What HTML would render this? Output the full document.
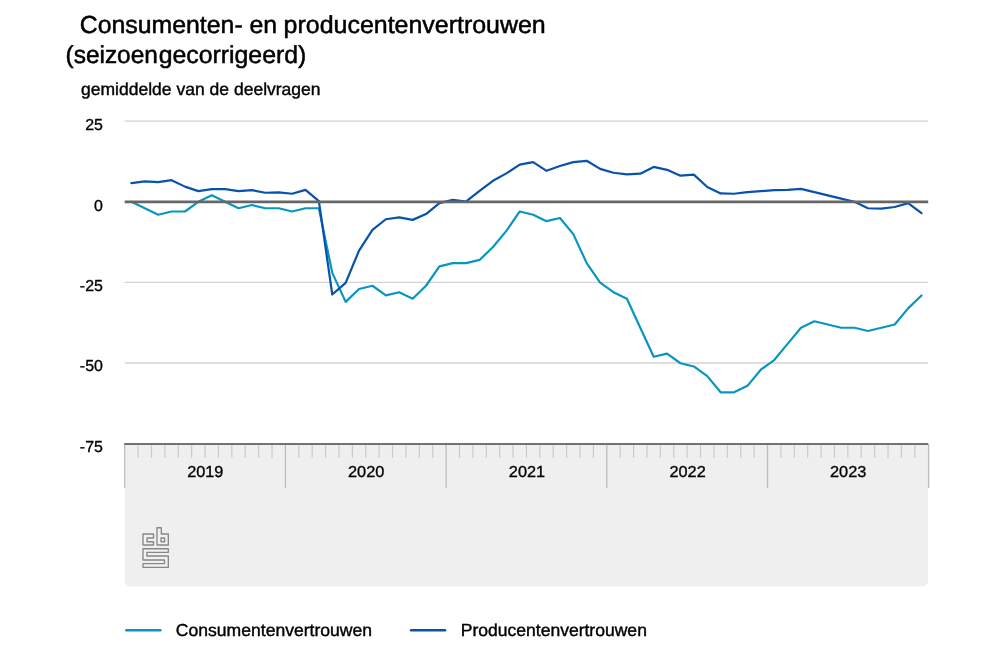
<!DOCTYPE html>
<html lang="nl"><head><meta charset="utf-8"><title>Consumenten- en producentenvertrouwen</title>
<style>
html,body{margin:0;padding:0;background:#fff;}
body{width:1000px;height:650px;overflow:hidden;}
svg{display:block;font-family:"Liberation Sans",Arial,Helvetica,sans-serif;}
text{fill:#000;stroke:#000;text-rendering:geometricPrecision;}
</style></head><body>
<svg width="1000" height="650" viewBox="0 0 1000 650">
<rect width="1000" height="650" fill="#fff"/>
<g font-size="24.65px" stroke-width="0.5">
<text y="32.8" id="t1"><tspan x="79.79" textLength="197.39" lengthAdjust="spacingAndGlyphs">Consumenten- en</tspan> <tspan x="283.61" textLength="262.12" lengthAdjust="spacingAndGlyphs">producentenvertrouwen</tspan></text>
<text y="62.85" id="t2"><tspan x="65.56" textLength="92.32" lengthAdjust="spacingAndGlyphs">(seizoen</tspan><tspan x="158.74" textLength="147.56" lengthAdjust="spacingAndGlyphs">gecorrigeerd)</tspan></text>
</g>
<g font-size="17.4px" stroke-width="0.4">
<text x="81.0" y="94.6" textLength="239.6" lengthAdjust="spacingAndGlyphs" id="sub">gemiddelde van de deelvragen</text>
</g>
<path d="M124.9,444 H928.0 V581 a5.5,5.5 0 0 1 -5.5,5.5 H130.4 a5.5,5.5 0 0 1 -5.5,-5.5 Z" fill="#efefef"/>
<g stroke="#d4d4d4" stroke-width="1.4">
<line x1="124.7" x2="928.2" y1="121.1" y2="121.1"/>
<line x1="124.7" x2="928.2" y1="282.4" y2="282.4"/>
<line x1="124.7" x2="928.2" y1="363" y2="363"/>
</g>
<g stroke="#c9c9c9" stroke-width="1.15">
<line x1="138.09" x2="138.09" y1="444" y2="457.7"/>
<line x1="151.48" x2="151.48" y1="444" y2="457.7"/>
<line x1="164.88" x2="164.88" y1="444" y2="457.7"/>
<line x1="178.27" x2="178.27" y1="444" y2="457.7"/>
<line x1="191.66" x2="191.66" y1="444" y2="457.7"/>
<line x1="205.05" x2="205.05" y1="444" y2="457.7"/>
<line x1="218.44" x2="218.44" y1="444" y2="457.7"/>
<line x1="231.83" x2="231.83" y1="444" y2="457.7"/>
<line x1="245.23" x2="245.23" y1="444" y2="457.7"/>
<line x1="258.62" x2="258.62" y1="444" y2="457.7"/>
<line x1="272.01" x2="272.01" y1="444" y2="457.7"/>
<line x1="298.79" x2="298.79" y1="444" y2="457.7"/>
<line x1="312.18" x2="312.18" y1="444" y2="457.7"/>
<line x1="325.57" x2="325.57" y1="444" y2="457.7"/>
<line x1="338.97" x2="338.97" y1="444" y2="457.7"/>
<line x1="352.36" x2="352.36" y1="444" y2="457.7"/>
<line x1="365.75" x2="365.75" y1="444" y2="457.7"/>
<line x1="379.14" x2="379.14" y1="444" y2="457.7"/>
<line x1="392.53" x2="392.53" y1="444" y2="457.7"/>
<line x1="405.93" x2="405.93" y1="444" y2="457.7"/>
<line x1="419.32" x2="419.32" y1="444" y2="457.7"/>
<line x1="432.71" x2="432.71" y1="444" y2="457.7"/>
<line x1="459.49" x2="459.49" y1="444" y2="457.7"/>
<line x1="472.88" x2="472.88" y1="444" y2="457.7"/>
<line x1="486.28" x2="486.28" y1="444" y2="457.7"/>
<line x1="499.67" x2="499.67" y1="444" y2="457.7"/>
<line x1="513.06" x2="513.06" y1="444" y2="457.7"/>
<line x1="526.45" x2="526.45" y1="444" y2="457.7"/>
<line x1="539.84" x2="539.84" y1="444" y2="457.7"/>
<line x1="553.23" x2="553.23" y1="444" y2="457.7"/>
<line x1="566.62" x2="566.62" y1="444" y2="457.7"/>
<line x1="580.02" x2="580.02" y1="444" y2="457.7"/>
<line x1="593.41" x2="593.41" y1="444" y2="457.7"/>
<line x1="620.19" x2="620.19" y1="444" y2="457.7"/>
<line x1="633.58" x2="633.58" y1="444" y2="457.7"/>
<line x1="646.98" x2="646.98" y1="444" y2="457.7"/>
<line x1="660.37" x2="660.37" y1="444" y2="457.7"/>
<line x1="673.76" x2="673.76" y1="444" y2="457.7"/>
<line x1="687.15" x2="687.15" y1="444" y2="457.7"/>
<line x1="700.54" x2="700.54" y1="444" y2="457.7"/>
<line x1="713.93" x2="713.93" y1="444" y2="457.7"/>
<line x1="727.33" x2="727.33" y1="444" y2="457.7"/>
<line x1="740.72" x2="740.72" y1="444" y2="457.7"/>
<line x1="754.11" x2="754.11" y1="444" y2="457.7"/>
<line x1="780.89" x2="780.89" y1="444" y2="457.7"/>
<line x1="794.28" x2="794.28" y1="444" y2="457.7"/>
<line x1="807.68" x2="807.68" y1="444" y2="457.7"/>
<line x1="821.07" x2="821.07" y1="444" y2="457.7"/>
<line x1="834.46" x2="834.46" y1="444" y2="457.7"/>
<line x1="847.85" x2="847.85" y1="444" y2="457.7"/>
<line x1="861.24" x2="861.24" y1="444" y2="457.7"/>
<line x1="874.63" x2="874.63" y1="444" y2="457.7"/>
<line x1="888.03" x2="888.03" y1="444" y2="457.7"/>
<line x1="901.42" x2="901.42" y1="444" y2="457.7"/>
<line x1="914.81" x2="914.81" y1="444" y2="457.7"/>
</g>
<g stroke="#bdbdbd" stroke-width="1.3">
<line x1="124.70" x2="124.70" y1="444" y2="488"/>
<line x1="285.40" x2="285.40" y1="444" y2="488"/>
<line x1="446.10" x2="446.10" y1="444" y2="488"/>
<line x1="606.80" x2="606.80" y1="444" y2="488"/>
<line x1="767.50" x2="767.50" y1="444" y2="488"/>
<line x1="928.60" x2="928.60" y1="444" y2="488"/>
</g>
<line x1="124.2" x2="928.2" y1="444" y2="444" stroke="#727272" stroke-width="2"/>
<g font-size="15.95px" stroke-width="0.33">
<text x="102.9" y="130.3" text-anchor="end">25</text>
<text x="102.9" y="210.7" text-anchor="end">0</text>
<text x="102.9" y="290.9" text-anchor="end">-25</text>
<text x="102.9" y="371.3" text-anchor="end">-50</text>
<text x="102.9" y="451.9" text-anchor="end">-75</text>
</g>
<g font-size="15.95px" stroke-width="0.33">
<text x="187.16" y="477.2" textLength="36.3" lengthAdjust="spacingAndGlyphs">2019</text>
<text x="347.99" y="477.2" textLength="36.3" lengthAdjust="spacingAndGlyphs">2020</text>
<text x="508.82" y="477.2" textLength="36.3" lengthAdjust="spacingAndGlyphs">2021</text>
<text x="669.43" y="477.2" textLength="36.3" lengthAdjust="spacingAndGlyphs">2022</text>
<text x="830.04" y="477.2" textLength="36.3" lengthAdjust="spacingAndGlyphs">2023</text>
</g>
<g fill="none" stroke-width="2.2" stroke-linejoin="round" stroke-linecap="round">
<path stroke="#0896c0" d="M131.40,201.80 L144.79,208.26 L158.18,214.72 L171.57,211.49 L184.96,211.49 L198.35,201.80 L211.75,195.34 L225.14,201.80 L238.53,208.26 L251.92,205.03 L265.31,208.26 L278.70,208.26 L292.10,211.49 L305.49,208.26 L318.88,208.26 L332.27,272.84 L345.66,301.90 L359.05,288.98 L372.45,285.75 L385.84,295.44 L399.23,292.21 L412.62,298.67 L426.01,285.75 L439.40,266.38 L452.80,263.15 L466.19,263.15 L479.58,259.92 L492.97,247.01 L506.36,230.86 L519.75,211.49 L533.15,214.72 L546.54,221.17 L559.93,217.95 L573.32,234.09 L586.71,263.15 L600.10,282.52 L613.50,292.21 L626.89,298.67 L640.28,327.73 L653.67,356.79 L667.06,353.56 L680.45,363.25 L693.85,366.48 L707.24,376.17 L720.63,392.31 L734.02,392.31 L747.41,385.85 L760.80,369.71 L774.20,360.02 L787.59,343.88 L800.98,327.73 L814.37,321.27 L827.76,324.50 L841.15,327.73 L854.55,327.73 L867.94,330.96 L881.33,327.73 L894.72,324.50 L908.11,308.36 L921.50,295.44"/>
<path stroke="#0852ab" d="M131.40,183.07 L144.79,181.46 L158.18,182.10 L171.57,180.17 L184.96,186.62 L198.35,191.14 L211.75,189.21 L225.14,189.21 L238.53,191.14 L251.92,190.18 L265.31,192.76 L278.70,192.44 L292.10,193.73 L305.49,189.85 L318.88,201.15 L332.27,294.47 L345.66,282.85 L359.05,250.56 L372.45,229.89 L385.84,219.24 L399.23,217.30 L412.62,219.88 L426.01,214.07 L439.40,203.09 L452.80,199.86 L466.19,201.48 L479.58,190.82 L492.97,180.81 L506.36,173.38 L519.75,164.67 L533.15,162.08 L546.54,170.80 L559.93,165.96 L573.32,162.08 L586.71,160.79 L600.10,168.86 L613.50,172.74 L626.89,174.35 L640.28,173.71 L653.67,166.93 L667.06,169.83 L680.45,175.65 L693.85,174.68 L707.24,186.95 L720.63,193.40 L734.02,193.73 L747.41,192.11 L760.80,191.14 L774.20,190.18 L787.59,189.85 L800.98,188.88 L814.37,192.11 L827.76,195.34 L841.15,198.57 L854.55,201.80 L867.94,208.26 L881.33,208.58 L894.72,206.97 L908.11,203.09 L921.50,213.10"/>
</g>
<line x1="124.7" x2="928.2" y1="201.9" y2="201.9" stroke="#666" stroke-width="2.8"/>
<g fill="#f1f1f1" stroke="#878787" stroke-width="1.35" stroke-linejoin="round">
<path d="M143,534 H153.5 V538 H147 V541.7 H153.5 V545 H143 Z"/>
<path d="M157,527.7 H161.3 V534 H168.3 V545 H157 Z M161,538 H164.6 V541.7 H161 Z" fill-rule="evenodd"/>
<path d="M143,548.7 H168.3 V552.4 H146.9 V556 H168.3 V567.3 H143 V563.6 H164.5 V560 H143 Z"/>
</g>
<g stroke-width="2.4" stroke-linecap="round">
<line x1="126.3" x2="160.4" y1="630.3" y2="630.3" stroke="#0896c0"/>
<line x1="411.1" x2="445.1" y1="630.3" y2="630.3" stroke="#0852ab"/>
</g>
<g font-size="17.4px" stroke-width="0.4">
<text x="175.8" y="636.4" textLength="196.3" lengthAdjust="spacingAndGlyphs" id="leg1">Consumentenvertrouwen</text>
<text x="460.7" y="636.4" textLength="186.2" lengthAdjust="spacingAndGlyphs" id="leg2">Producentenvertrouwen</text>
</g>
</svg>
</body></html>
